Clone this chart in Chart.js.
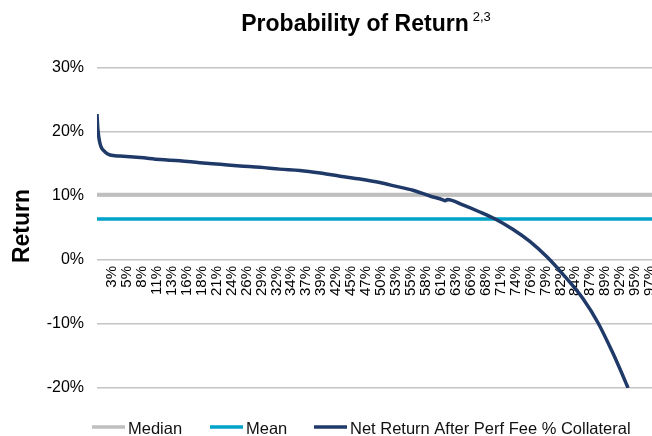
<!DOCTYPE html>
<html>
<head>
<meta charset="utf-8">
<script src="https://cdn.jsdelivr.net/npm/chart.js@4/dist/chart.umd.min.js"></script>
<style>
  html, body { margin: 0; padding: 0; background: #fff; width: 652px; height: 436px; overflow: hidden; }
  #wrap { position: absolute; left: 0; top: 0; width: 700px; height: 436px; }
</style>
</head>
<body>
<div id="wrap"><canvas id="c" width="700" height="436"></canvas></div>
<script>
// Text
const chartTitle = 'Probability of Return';
const titleNote = '2,3';
const yAxisTitle = 'Return';
const seriesNames = ['Median', 'Mean', 'Net Return After Perf Fee % Collateral'];

// Reference levels (%)
const medianReturn = [10.2];
const meanReturn = [6.4];

// Net return by probability rank (%)
const percentile = [0, 0.15, 0.5, 1.4, 2.3, 4.0, 7.6, 11.1, 14.6, 18.1, 21.7, 25.2, 28.7, 32.2, 35.7, 39.3, 42.8, 46.3, 49.8, 52.7, 55.6, 58.6, 60.9, 61.3, 61.7, 64.4, 67.4, 70.1, 73.2, 76.2, 79.2, 82.0, 85.6, 88.2, 90.8, 92.4, 93.5];
const netReturn = [22.8, 20.5, 18.3, 16.9, 16.4, 16.25, 16.0, 15.7, 15.5, 15.2, 14.95, 14.7, 14.5, 14.2, 14.0, 13.6, 13.1, 12.65, 12.1, 11.5, 10.9, 10.0, 9.4, 9.25, 9.45, 8.6, 7.5, 6.4, 4.8, 2.9, 0.5, -2.2, -6.1, -9.8, -14.5, -17.7, -20.0];

// Axis labels
const xTickLabels = ['3%', '5%', '8%', '11%', '13%', '16%', '18%', '21%', '24%', '26%', '29%', '32%', '34%', '37%', '39%', '42%', '45%', '47%', '50%', '53%', '55%', '58%', '61%', '63%', '66%', '68%', '71%', '74%', '76%', '79%', '82%', '84%', '87%', '89%', '92%', '95%', '97%'];
const yRange = [-20, 30];
const yStep = 10;

const colors = ['#BFBFBF', '#00A2CA', '#1F3A68'];
const FONT = "'Liberation Sans', Arial, Helvetica, sans-serif";

const xMin = 0, xMax = 100;
const xStep = (xMax - xMin) / (xTickLabels.length + 1);

const flat = v => [{ x: xMin, y: v }, { x: xMax, y: v }];

const titlePlugin = {
  id: 'titles',
  afterDraw(chart) {
    const ctx = chart.ctx;
    ctx.save();
    ctx.fillStyle = '#000';
    ctx.textBaseline = 'alphabetic';
    ctx.font = 'bold 23px ' + FONT;
    const w1 = ctx.measureText(chartTitle).width;
    ctx.font = '13px ' + FONT;
    const w2 = ctx.measureText(titleNote).width;
    const cx = 366;
    const gap = 4;
    const x0 = cx - (w1 + gap + w2) / 2;
    ctx.font = 'bold 23px ' + FONT;
    ctx.textAlign = 'left';
    ctx.fillText(chartTitle, x0, 31);
    ctx.font = '13px ' + FONT;
    ctx.fillText(titleNote, x0 + w1 + gap, 21);

    // vertical axis title
    ctx.translate(23, 226);
    ctx.rotate(-Math.PI / 2);
    ctx.font = 'bold 23px ' + FONT;
    ctx.textAlign = 'center';
    ctx.textBaseline = 'middle';
    ctx.fillText(yAxisTitle, 0, 0);
    ctx.restore();
  }
};

const legendPlugin = {
  id: 'legendRow',
  afterDraw(chart) {
    const ctx = chart.ctx;
    const starts = [128, 246, 350];
    const y = 428;
    ctx.save();
    ctx.font = '16.5px ' + FONT;
    ctx.textBaseline = 'middle';
    ctx.textAlign = 'left';
    chart.data.datasets.forEach((ds, i) => {
      ctx.strokeStyle = ds.borderColor;
      ctx.lineWidth = 3.5;
      ctx.beginPath();
      ctx.moveTo(starts[i] - 36, y - 1);
      ctx.lineTo(starts[i] - 3, y - 1);
      ctx.stroke();
      ctx.fillStyle = '#111';
      ctx.fillText(ds.label, starts[i], y + 1);
    });
    ctx.restore();
  }
};

new Chart(document.getElementById('c'), {
  type: 'line',
  data: {
    datasets: [
      { label: seriesNames[0], data: flat(medianReturn[0]), borderColor: colors[0], borderWidth: 4, pointRadius: 0, order: 2 },
      { label: seriesNames[1], data: flat(meanReturn[0]), borderColor: colors[1], borderWidth: 3.5, pointRadius: 0, order: 1 },
      { label: seriesNames[2], data: percentile.map((p, i) => ({ x: p, y: netReturn[i] })), borderColor: colors[2], borderWidth: 3.5, pointRadius: 0, cubicInterpolationMode: 'monotone', order: 0 }
    ]
  },
  options: {
    responsive: false,
    animation: false,
    events: [],
    layout: { padding: { left: 0, right: 35, top: 68, bottom: 48 } },
    plugins: { legend: { display: false }, title: { display: false }, tooltip: { enabled: false } },
    scales: {
      x: {
        type: 'linear',
        min: xMin,
        max: xMax,
        position: { y: 0 },
        grid: { display: false, drawTicks: false },
        border: { display: false },
        afterBuildTicks: s => { s.ticks = xTickLabels.map((_, i) => ({ value: xMin + (i + 1) * xStep })); },
        ticks: {
          autoSkip: false,
          maxRotation: 90,
          minRotation: 90,
          padding: 6,
          color: '#000',
          font: { family: FONT, size: 15 },
          callback: (v, i) => xTickLabels[i]
        }
      },
      y: {
        min: yRange[0],
        max: yRange[1],
        afterFit: s => { s.width = 97; },
        grid: { color: '#C4C4C4', lineWidth: 1.5, drawTicks: false },
        border: { display: false },
        ticks: {
          stepSize: yStep,
          padding: 13,
          color: '#000',
          font: { family: FONT, size: 16 },
          callback: v => v + '%'
        }
      }
    }
  },
  plugins: [titlePlugin, legendPlugin]
});
</script>
</body>
</html>
